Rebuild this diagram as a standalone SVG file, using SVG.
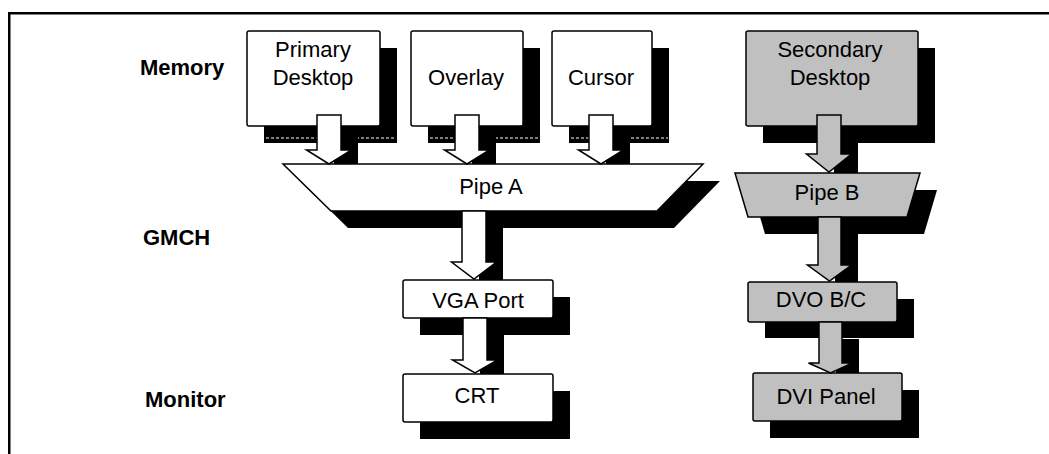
<svg xmlns="http://www.w3.org/2000/svg" width="1049" height="454" viewBox="0 0 1049 454">
  <style>
    .frame { fill: #000; }
    .box { stroke: #000; stroke-width: 1.5; }
    .white { fill: #fff; }
    .gray { fill: #c0c0c0; }
    .shadow { fill: #000; }
    .dots { stroke: #fff; stroke-width: 1; stroke-dasharray: 3 2; fill: none; }
    .lbl { font-family: "Liberation Sans", Arial, sans-serif; font-size: 22px; fill: #000; text-anchor: middle; }
    .row { font-family: "Liberation Sans", Arial, sans-serif; font-size: 22px; font-weight: bold; fill: #000; }
  </style>

  <!-- partial frame: top and left borders -->
  <rect class="frame" x="8" y="12" width="1041" height="2.5"/>
  <rect class="frame" x="8" y="12" width="2.5" height="442"/>

  <!-- row captions -->
  <g id="row-labels">
    <text class="row" x="140" y="75">Memory</text>
    <text class="row" x="143" y="245">GMCH</text>
    <text class="row" x="145" y="407">Monitor</text>
  </g>

  <!-- memory surfaces -->
  <g id="primary-desktop">
    <rect class="shadow" x="264" y="48" width="133" height="95"/>
    <line class="dots" x1="266" y1="138" x2="396" y2="138"/>
    <rect class="box white" x="247" y="31" width="133" height="95" rx="2"/>
    <text class="lbl" x="313" y="57">Primary</text>
    <text class="lbl" x="313" y="85">Desktop</text>
  </g>
  <g id="overlay">
    <rect class="shadow" x="428" y="48" width="112" height="95"/>
    <line class="dots" x1="430" y1="138" x2="539" y2="138"/>
    <rect class="box white" x="411" y="31" width="112" height="95" rx="2"/>
    <text class="lbl" x="466" y="85">Overlay</text>
  </g>
  <g id="cursor">
    <rect class="shadow" x="569" y="48" width="100" height="95"/>
    <line class="dots" x1="571" y1="138" x2="668" y2="138"/>
    <rect class="box white" x="552" y="31" width="100" height="95" rx="2"/>
    <text class="lbl" x="601" y="85">Cursor</text>
  </g>
  <g id="secondary-desktop">
    <rect class="shadow" x="763" y="48" width="172" height="95"/>
    <rect class="box gray" x="746" y="31" width="172" height="95" rx="2"/>
    <text class="lbl" x="830" y="57">Secondary</text>
    <text class="lbl" x="830" y="85">Desktop</text>
  </g>

  <!-- display pipes -->
  <g id="pipe-a">
    <polygon class="shadow" points="300,181 720,181 674,228 348,228"/>
    <polygon class="box white" points="283,164 703,164 657,211 331,211"/>
    <text class="lbl" x="491" y="194">Pipe A</text>
  </g>
  <g id="pipe-b">
    <polygon class="shadow" points="752,190 937,190 924,234 765,234"/>
    <polygon class="box gray" points="735,173 920,173 907,217 748,217"/>
    <text class="lbl" x="827" y="200">Pipe B</text>
  </g>

  <!-- ports -->
  <g id="vga-port">
    <rect class="shadow" x="420" y="297" width="150" height="38"/>
    <rect class="box white" x="403" y="280" width="150" height="38" rx="2"/>
    <text class="lbl" x="478" y="308">VGA Port</text>
  </g>
  <g id="dvo-bc">
    <rect class="shadow" x="765" y="299" width="149" height="39"/>
    <rect class="box gray" x="748" y="282" width="149" height="40" rx="2"/>
    <text class="lbl" x="821" y="307">DVO B/C</text>
  </g>

  <!-- displays -->
  <g id="crt">
    <rect class="shadow" x="420" y="391" width="150" height="48"/>
    <rect class="box white" x="403" y="374" width="150" height="48" rx="2"/>
    <text class="lbl" x="477" y="403">CRT</text>
  </g>
  <g id="dvi-panel">
    <rect class="shadow" x="770" y="390" width="149" height="48"/>
    <rect class="box gray" x="753" y="373" width="149" height="48" rx="2"/>
    <text class="lbl" x="826" y="404">DVI Panel</text>
  </g>

  <!-- block arrows with their drop shadows -->
  <g id="connectors">
    <!-- Primary Desktop to Pipe A -->
    <rect class="shadow" x="334" y="132" width="24" height="32"/>
    <polygon class="box white" points="317,115 341,115 341,150 351.5,150 329,164 306.5,150 317,150"/>
    <!-- Overlay to Pipe A -->
    <rect class="shadow" x="472" y="132" width="24" height="32"/>
    <polygon class="box white" points="455,115 479,115 479,150 489.5,150 467,164 444.5,150 455,150"/>
    <!-- Cursor to Pipe A -->
    <rect class="shadow" x="606" y="132" width="24" height="32"/>
    <polygon class="box white" points="589,115 613,115 613,150 623.5,150 601,164 578.5,150 589,150"/>
    <!-- Secondary Desktop to Pipe B -->
    <rect class="shadow" x="834" y="132" width="24" height="41"/>
    <polygon class="box gray" points="817,115 841,115 841,154 851.5,154 829,172 806.5,154 817,154"/>
    <!-- Pipe A to VGA Port -->
    <rect class="shadow" x="479" y="228" width="24" height="52"/>
    <polygon class="box white" points="462,211 486,211 486,262 496.5,262 474,279 451.5,262 462,262"/>
    <!-- VGA Port to CRT -->
    <rect class="shadow" x="480" y="335" width="24" height="39"/>
    <polygon class="box white" points="463,318 487,318 487,360 497.5,360 475,373 452.5,360 463,360"/>
    <!-- Pipe B to DVO B/C -->
    <rect class="shadow" x="835" y="234" width="23" height="48"/>
    <polygon class="box gray" points="818,217 841,217 841,265 851.5,265 829.5,281 807.5,265 818,265"/>
    <!-- DVO B/C to DVI Panel -->
    <rect class="shadow" x="836" y="339" width="23" height="34"/>
    <polygon class="box gray" points="819,322 842,322 842,363 852.5,363 830.5,373 808.5,363 819,363"/>
  </g>
</svg>
